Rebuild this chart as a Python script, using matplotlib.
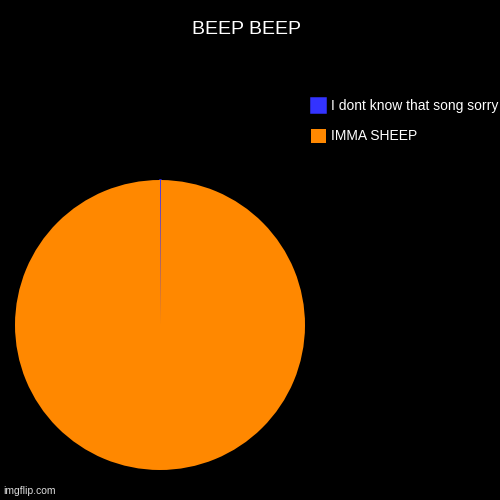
import matplotlib
matplotlib.use("Agg")
import matplotlib.pyplot as plt

# data
labels = ["I dont know that song sorry", "IMMA SHEEP"]
values = [1, 1000]
colors = ["#3333ff", "#ff8800"]
title = "BEEP BEEP"

plt.rcParams["font.family"] = ["Liberation Sans", "DejaVu Sans"]

fig = plt.figure(figsize=(5, 5), dpi=100, facecolor="black")

# pie axes placed in pixel terms: left 15, bottom 30, 290 x 290
ax = fig.add_axes([15 / 500, 30 / 500, 290 / 500, 290 / 500])
ax.set_facecolor("black")
wedges, _ = ax.pie(values, colors=colors, startangle=90, counterclock=False,
                   radius=1.0, wedgeprops={"linewidth": 0})
# the tiny slice shows up as a thin blue stroke
wedges[0].set_edgecolor(colors[0])
wedges[0].set_linewidth(1.1)
ax.set_xlim(-1, 1)
ax.set_ylim(-1, 1)
ax.set_aspect("equal")
ax.axis("off")

fig.text(246 / 500, 1 - 30 / 500, title, color="white", fontsize=14,
         ha="center", va="center")

leg = fig.legend(wedges, labels, loc="upper left",
                 bbox_to_anchor=(298 / 500, 1 - 86 / 500), frameon=False,
                 fontsize=10, handlelength=1.15, handleheight=1.2,
                 handletextpad=0.35, labelspacing=1.1, labelcolor="white")

fig.text(3 / 500, 1 - 491 / 500, "imgflip.com", color="#dddddd", fontsize=7.5,
         ha="left", va="center")

fig.savefig("out.png", dpi=100, facecolor="black")
